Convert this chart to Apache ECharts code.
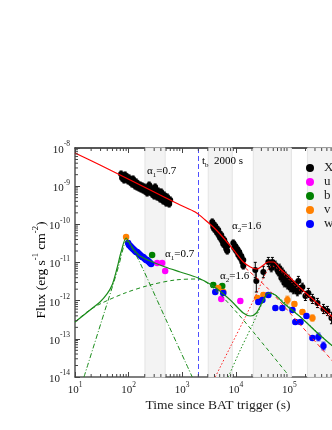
<!DOCTYPE html>
<html><head><meta charset="utf-8">
<script src="https://cdn.jsdelivr.net/npm/echarts@6/dist/echarts.min.js"></script>
<style>html,body{margin:0;padding:0;background:#fff}#c{width:332px;height:430px}</style>
</head><body><div id="c"></div>
<script>
// ---------- data (time s, flux erg/s/cm2, error in dex) ----------
const xrtData = [
 [72.4,2.08e-9,0.08],[75.5,1.64e-9,0.08],[78.9,1.85e-9,0.08],[82.4,1.45e-9,0.08],[86.0,1.96e-9,0.08],
 [89.8,1.54e-9,0.08],[93.8,1.74e-9,0.08],[97.9,1.37e-9,0.08],[102,1.64e-9,0.08],[107,1.29e-9,0.08],
 [111,1.45e-9,0.08],[116,1.14e-9,0.08],[121,1.54e-9,0.08],[127,1.21e-9,0.08],[132,1.01e-9,0.08],
 [138,1.29e-9,0.08],[144,9.51e-10,0.08],[150,1.14e-9,0.08],[157,8.95e-10,0.08],[164,1.07e-9,0.08],
 [171,8.43e-10,0.08],[179,1.01e-9,0.08],[187,7.94e-10,0.08],[195,9.51e-10,0.08],[203,7.47e-10,0.08],
 [212,8.95e-10,0.08],[222,6.62e-10,0.08],[231,8.43e-10,0.08],[242,1.07e-9,0.08],[252,7.03e-10,0.08],
 [263,8.95e-10,0.08],[275,6.23e-10,0.08],[287,7.94e-10,0.08],[300,5.53e-10,0.08],[313,9.51e-10,0.08],
 [327,6.62e-10,0.08],[341,5.20e-10,0.08],[356,7.47e-10,0.08],[372,5.87e-10,0.08],[388,4.61e-10,0.08],
 [405,7.03e-10,0.08],[423,5.20e-10,0.08],[441,4.09e-10,0.08],[461,5.87e-10,0.08],[481,4.61e-10,0.08],
 [502,3.62e-10,0.08],[525,5.20e-10,0.08],[547,4.09e-10,0.08],[572,3.41e-10,0.08],[597,4.34e-10,0.08],
 [3640,1.15e-10,0.08],[3795,8.51e-11,0.08],[3795,1.02e-10,0.08],[3963,7.55e-11,0.08],[4140,9.04e-11,0.08],
 [4315,6.69e-11,0.08],[4315,8.01e-11,0.08],[4508,5.93e-11,0.08],[4710,7.11e-11,0.08],[4910,4.95e-11,0.08],
 [4910,5.93e-11,0.08],[5130,4.39e-11,0.08],[5355,5.26e-11,0.08],[5585,3.66e-11,0.08],[5585,4.39e-11,0.08],
 [5835,3.05e-11,0.08],[6095,3.89e-11,0.08],[6365,2.71e-11,0.08],[6365,3.24e-11,0.08],[6640,2.26e-11,0.08],
 [6935,2.71e-11,0.08],[6935,2.00e-11,0.08],
 [8980,3.24e-11,0.08],[9380,2.40e-11,0.08],[9775,2.71e-11,0.08],[10200,2.00e-11,0.08],[10670,2.26e-11,0.08],
 [11140,1.57e-11,0.08],[11610,1.88e-11,0.08],[12130,1.31e-11,0.08],[12680,1.48e-11,0.08],[13210,1.03e-11,0.08],
 [13800,1.16e-11,0.08],[13800,8.10e-12,0.08],
 [23100,6.37e-12,0.2],[24150,3.28e-12,0.29],[32650,5.64e-12,0.15],[40500,1.03e-11,0.12],[48100,1.03e-11,0.12],
 [46000,7.18e-12,0.1],[50200,8.10e-12,0.1],[54700,8.60e-12,0.1],[59600,6.37e-12,0.1],[62200,5.64e-12,0.1],
 [65000,7.18e-12,0.1],[67800,5.00e-12,0.1],[70800,3.93e-12,0.1],[74000,5.64e-12,0.1],[77200,4.17e-12,0.1],
 [80500,2.90e-12,0.1],[84100,4.43e-12,0.1],[87900,3.28e-12,0.1],[91800,2.57e-12,0.1],[95700,3.70e-12,0.1],
 [100000,2.73e-12,0.1],[104500,2.15e-12,0.1],[109000,2.90e-12,0.1],[114000,2.28e-12,0.1],[119000,1.91e-12,0.1],
 [124000,2.57e-12,0.1],[135000,2.02e-12,0.1],[141000,1.69e-12,0.1],[147000,3.28e-12,0.12],[161000,1.91e-12,0.1],
 [175000,2.28e-12,0.1],[199000,1.33e-12,0.12],[226000,1.59e-12,0.12],[269000,1.11e-12,0.12],[334000,8.69e-13,0.12],
 [432000,6.05e-13,0.12],[513000,5.36e-13,0.12],[609000,3.51e-13,0.15]
];
const uData = [[341,9.70e-12,0.03],[423,9.70e-12,0.03],[481,6.0e-12,0.03],[5355,1.11e-12,0.05],[12130,9.80e-13,0.06]];
const bData = [[275,1.57e-11,0.03],[3795,2.57e-12,0.06],[5585,2.42e-12,0.05]];
const vData = [[89.8,4.66e-11,0.03],[4710,2.15e-12,0.05],[5835,1.69e-12,0.05],[25200,1.18e-12,0.06],[32650,1.41e-12,0.06],
 [91800,1.04e-12,0.1],[124000,8.18e-13,0.06],[175000,5.05e-13,0.06],[269000,3.51e-13,0.08]];
const whData = [[97.9,3.24e-11,0.02],[102,2.88e-11,0.02],[107,2.71e-11,0.02],[111,2.55e-11,0.02],[116,2.40e-11,0.02],
 [121,2.26e-11,0.02],[127,2.13e-11,0.02],[132,2.00e-11,0.02],[138,1.88e-11,0.02],[144,1.88e-11,0.02],
 [150,1.77e-11,0.02],[157,1.67e-11,0.02],[164,1.57e-11,0.02],[171,1.48e-11,0.02],[179,1.39e-11,0.02],
 [187,1.39e-11,0.02],[195,1.31e-11,0.02],[203,1.24e-11,0.02],[212,1.16e-11,0.02],[222,1.16e-11,0.02],
 [231,1.09e-11,0.02],[242,1.03e-11,0.02],[252,9.70e-12,0.02],[263,9.14e-12,0.02],
 [4140,1.69e-12,0.05],[5835,1.59e-12,0.05],[26300,9.23e-13,0.05],[31300,1.04e-12,0.05],[40500,1.41e-12,0.05],
 [54700,6.43e-13,0.05],[74000,6.43e-13,0.05],[114000,5.70e-13,0.05],[129000,2.76e-13,0.05],[161000,2.76e-13,0.05],
 [208000,3.97e-13,0.05],[269000,1.05e-13,0.05],[348000,1.12e-13,0.1],[432000,6.49e-14,0.1]];

// model curves
const xrtModel = [[10,7.39e-9],[29.3,3.59e-9],[107,1.45e-9],[388,5.87e-10],[918,3.21e-10],[1750,2.10e-10],[2690,1.30e-10],
 [4140,7.55e-11],[6365,3.89e-11],[9790,1.88e-11],[13800,1.03e-11],[18700,7.62e-12],[24200,6.76e-12],[31300,8.10e-12],
 [40500,1.03e-11],[50200,1.03e-11],[67800,6.76e-12],[104500,3.93e-12],[161000,2.15e-12],[247000,1.25e-12],
 [380000,7.25e-13],[637000,3.73e-13],[1e6,2.04e-13]];
const xrtComp1 = [[15070,7.18e-12],[38800,2.15e-12],[161000,2.31e-13],[637000,2.63e-14],[1e6,1.27e-14]];
const xrtComp2 = [[4140,1e-14],[7890,6.11e-14],[15070,3.73e-13],[26300,1.91e-12],[35600,5.0e-12],[48100,8.10e-12],
 [67800,6.0e-12],[161000,1.79e-12],[637000,3.11e-13],[1e6,1.70e-13]];
const optModel = [[10,2.76e-13],[19.1,5.70e-13],[29.3,9.23e-13],[39.6,1.50e-12],[49.2,2.57e-12],[61.0,7.18e-12],
 [72.4,1.88e-11],[89.8,4.39e-11],[107,3.05e-11],[132,2.00e-11],[164,1.48e-11],[252,1.09e-11],[481,7.62e-12],
 [918,5.64e-12],[1990,3.93e-12],[3795,2.42e-12],[7890,1.04e-12],[13800,4.75e-13],[18700,3.97e-13],[24200,4.75e-13],
 [31300,9.23e-13],[40500,1.59e-12],[54700,1.41e-12],[77200,8.69e-13],[161000,3.73e-13],[334000,1.42e-13],
 [637000,6.49e-14],[1e6,3.55e-14]];
const optCompA = [[14.7,1e-14],[36.4,5.70e-13],[63.7,7.18e-12],[82.4,2.88e-11],[89.8,3.66e-11],[121,2.13e-11],
 [164,9.70e-12],[502,3.11e-13],[1540,1e-14]];
const optCompB = [[10,2.76e-13],[16.7,5.05e-13],[29.3,8.18e-13],[86,1.59e-12],[252,2.57e-12],[740,3.48e-12],
 [1990,3.70e-12],[4140,1.91e-12],[10670,4.75e-13],[31300,7.76e-14],[95700,1.12e-14]];
const optCompC = [[7240,1e-14],[12130,5.1e-14],[21200,2.60e-13],[31300,8.69e-13],[40500,1.59e-12],[54700,1.41e-12],
 [161000,3.73e-13],[1e6,3.55e-14]];
const bands = [[202,481],[3060,8600],[21200,109000],[217000,2e6]];
const tBreak = 2000;

const FONT = 'Liberation Serif';
const names = ['XRT','u','b','v','wh'];
const colors = {XRT:'#000000',u:'#ff00ff',b:'#008000',v:'#ff8000',wh:'#0000ff'};
const sets = {XRT:xrtData,u:uData,b:bData,v:vData,wh:whData};

const xMinor=[], yMinor=[];
for (let e=1;e<6;e++) for (let k=2;k<10;k++) xMinor.push(k*Math.pow(10,e));
for (let e=-14;e<-8;e++) for (let k=2;k<10;k++) yMinor.push(k*Math.pow(10,e));

function errBar(color, cap){
  return function(params, api){
    const x=api.value(0), y=api.value(1), d=api.value(2);
    const f=Math.pow(10,d);
    const p1=api.coord([x,y*f]), p2=api.coord([x,y/f]);
    return {type:'group',children:[
      {type:'line',shape:{x1:p1[0],y1:p1[1],x2:p2[0],y2:p2[1]},style:{stroke:color,lineWidth:1}},
      {type:'line',shape:{x1:p1[0]-cap,y1:p1[1],x2:p1[0]+cap,y2:p1[1]},style:{stroke:color,lineWidth:1}},
      {type:'line',shape:{x1:p2[0]-cap,y1:p2[1],x2:p2[0]+cap,y2:p2[1]},style:{stroke:color,lineWidth:1}}
    ]};
  };
}
const series = [];
series.push({type:'line',data:[],silent:true,
  markArea:{silent:true,itemStyle:{color:'#f3f3f3',borderColor:'#e4e4e4',borderWidth:1},
    data:bands.map(b=>[{xAxis:b[0]},{xAxis:b[1]}])},
  markLine:{silent:true,symbol:'none',label:{show:false},lineStyle:{color:'#4f4fff',type:[5,3],width:1},
    data:[{xAxis:tBreak}]}, z:1});
names.forEach(n=>{
  series.push({type:'custom',name:n+'err',data:sets[n],renderItem:errBar(colors[n], n==='XRT'?1.5:2),clip:true,z:3,silent:true});
  series.push({type:'scatter',name:n,data:sets[n].map(r=>[r[0],r[1]]),symbol:'circle',symbolSize:n==='XRT'?6:6.5,
    itemStyle:{color:colors[n],opacity:1},clip:true,z:4,silent:true});
});
function ln(data,color,type,w){return {type:'line',data:data,showSymbol:false,symbol:'none',smooth:0.3,clip:true,z:5,silent:true,
  lineStyle:{color:color,width:w||1,type:type}};}
series.push(ln(xrtModel,'#ff0000','solid',1.2));
series.push(ln(xrtComp1,'#ff2020',[4,3],1));
series.push(ln(xrtComp2,'#ff2020',[1.5,2],1));
series.push(ln(optModel,'#1a8c1a','solid',1.2));
series.push(ln(optCompA,'#1a8c1a',[5,2,1,2],1));
series.push(ln(optCompB,'#1a8c1a',[4,3],1));
series.push(ln(optCompC,'#1a8c1a',[1.5,2],1));
series.push({type:'custom',data:xMinor.map(v=>[v,1e-11]),silent:true,z:6,clip:false,renderItem:function(params,api){
  const cs=params.coordSys; const p=api.coord([api.value(0),1e-11]);
  return {type:'group',children:[
   {type:'line',shape:{x1:p[0],y1:cs.y+cs.height,x2:p[0],y2:cs.y+cs.height-3},style:{stroke:'#444',lineWidth:1}},
   {type:'line',shape:{x1:p[0],y1:cs.y,x2:p[0],y2:cs.y+3},style:{stroke:'#444',lineWidth:1}}]};}});
series.push({type:'custom',data:yMinor.map(v=>[100,v]),silent:true,z:6,clip:false,renderItem:function(params,api){
  const cs=params.coordSys; const p=api.coord([100,api.value(1)]);
  return {type:'line',shape:{x1:cs.x,y1:p[1],x2:cs.x+3,y2:p[1]},style:{stroke:'#444',lineWidth:1}};}});

const supRich = {b:{fontFamily:FONT,fontSize:11,color:'#222',verticalAlign:'bottom',lineHeight:15},
                 s:{fontFamily:FONT,fontSize:7.5,color:'#222',verticalAlign:'top',lineHeight:15}};
const axisLine = {show:true,lineStyle:{color:'#555',width:1.5}};
const option = {
  animation:false,
  backgroundColor:'#fff',
  grid:{left:75,top:148,width:268,height:229,containLabel:false,outerBoundsMode:'none',show:false},
  legend:{data:names,orient:'vertical',left:301,top:156,itemWidth:8,itemHeight:8,itemGap:0,icon:'circle',
    textStyle:{fontFamily:FONT,fontSize:13,color:'#222',lineHeight:14,padding:[0,0,0,5]}},
  xAxis:[{type:'log',logBase:10,min:10,max:1e6,axisLine:axisLine,
    axisTick:{inside:true,length:5,lineStyle:{color:'#444'}},splitLine:{show:false},
    axisLabel:{margin:4,formatter:v=>'{b|10}{s|'+Math.round(Math.log10(v))+'}',rich:supRich}},
   {type:'log',logBase:10,min:10,max:1e6,position:'top',axisLine:{show:true,lineStyle:{color:'#222',width:1.5}},
    axisTick:{inside:true,length:5,lineStyle:{color:'#444'}},axisLabel:{show:false},splitLine:{show:false}}],
  yAxis:[{type:'log',logBase:10,min:1e-14,max:1e-8,axisLine:axisLine,
    axisTick:{inside:true,length:5,lineStyle:{color:'#444'}},splitLine:{show:false},
    axisLabel:{margin:5,formatter:v=>'{b|10}{s|'+Math.round(Math.log10(v))+'}',rich:supRich}}],
  series:series,
  graphic:[
    {type:'text',x:40,y:270,rotation:Math.PI/2,style:{text:'{t|Flux (erg s}{s|-1}{t| cm}{s|-2}{t|)}',
      align:'center',verticalAlign:'middle',
      rich:{t:{fontFamily:FONT,fontSize:13.5,color:'#222',verticalAlign:'bottom',lineHeight:17},
            s:{fontFamily:FONT,fontSize:8.5,color:'#222',verticalAlign:'top',lineHeight:17}}}},
    {type:'text',x:218,y:405,style:{text:'Time since BAT trigger (s)',font:'13.5px "Liberation Serif"',fill:'#222',align:'center',verticalAlign:'middle'}},
    ...[[147,172,'1','0.7'],[165,255,'1','0.7'],[232,227,'2','1.6'],[220,277,'2','1.6']].map(a=>({type:'text',x:a[0],y:a[1],z:20,
      style:{text:'{a|α}{u|'+a[2]+'}{a|='+a[3]+'}',verticalAlign:'middle',
      rich:{a:{fontFamily:FONT,fontSize:11,color:'#333',verticalAlign:'top',lineHeight:13},
            u:{fontFamily:FONT,fontSize:7,color:'#333',verticalAlign:'bottom',lineHeight:13}}}})),
    {type:'text',x:202,y:162,z:20,style:{text:'{a|t}{u|b}{a|  2000 s}',verticalAlign:'middle',
      rich:{a:{fontFamily:FONT,fontSize:11,color:'#333',verticalAlign:'top',lineHeight:13},
            u:{fontFamily:FONT,fontSize:7,color:'#333',verticalAlign:'bottom',lineHeight:13}}}}
  ]
};
const chart = echarts.init(document.getElementById('c'),null,{renderer:'canvas'});
chart.setOption(option);
</script></body></html>
